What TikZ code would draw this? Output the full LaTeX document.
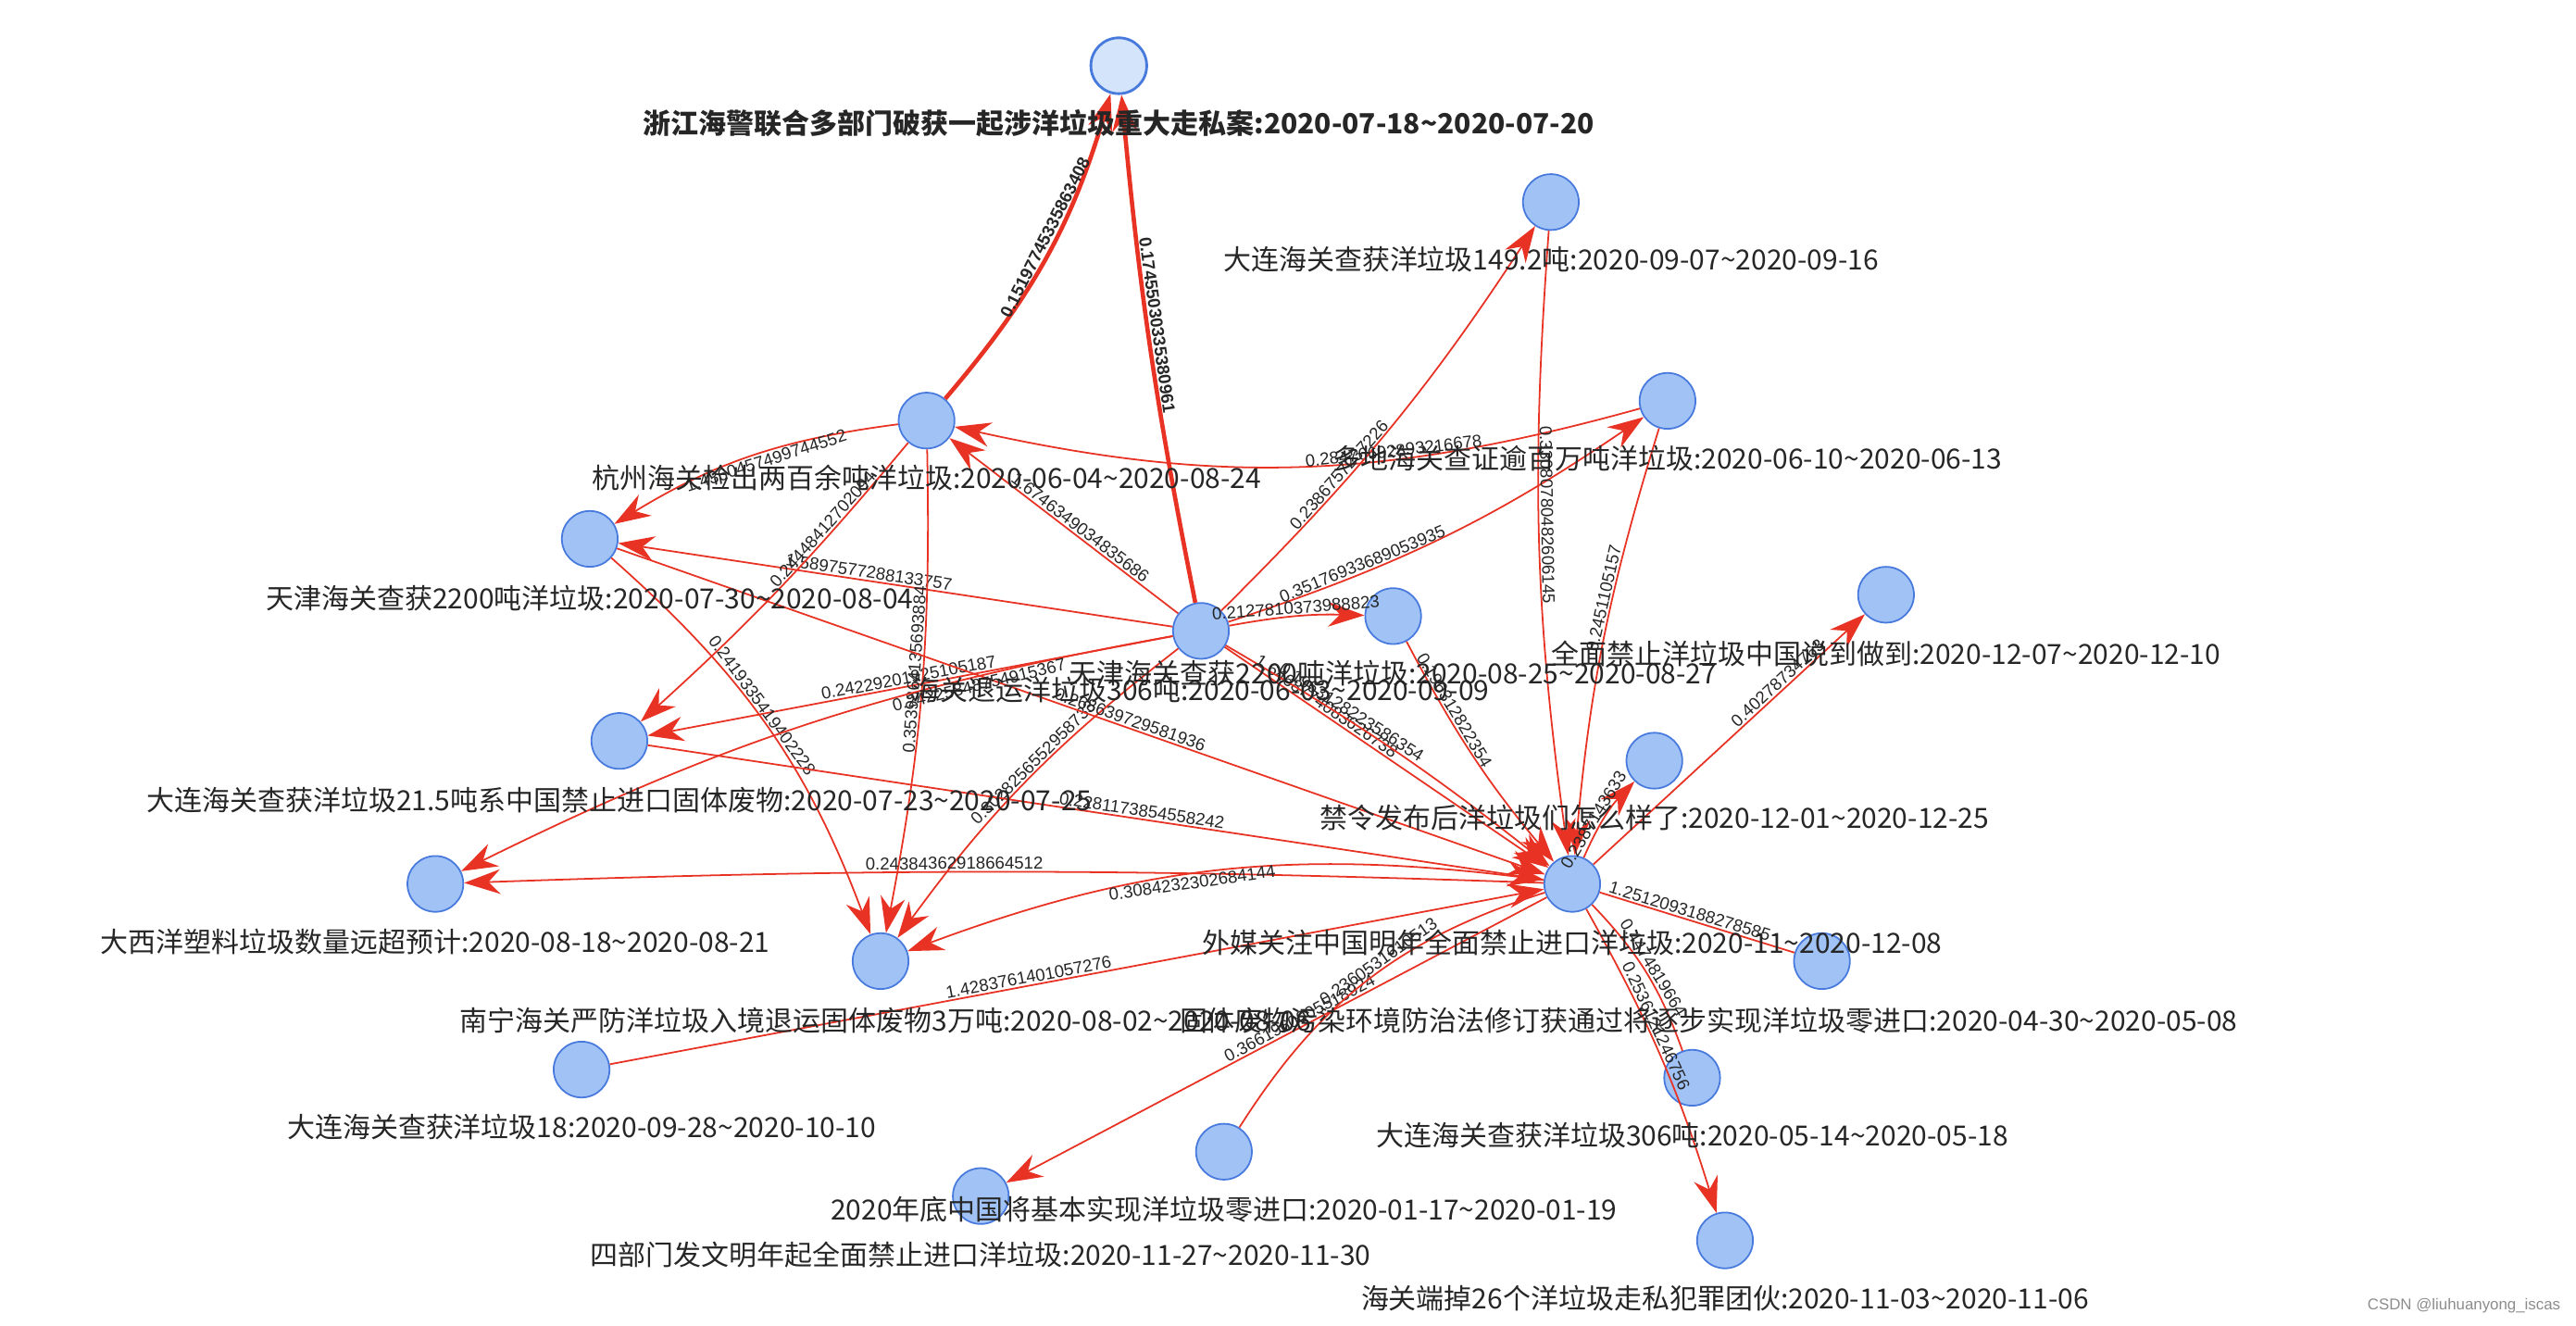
\documentclass[tikz,border=0pt]{standalone}
\usepackage{fontspec}
\setmainfont{Liberation Sans}
\newfontfamily\cjk{Noto Sans CJK SC}
\usetikzlibrary{arrows.meta}
\definecolor{ered}{RGB}{232,50,36}
\definecolor{nfill}{RGB}{160,194,245}
\definecolor{nline}{RGB}{72,122,222}
\tikzset{
 nd/.style={circle,fill=nfill,draw=nline,line width=1pt,minimum size=34pt,inner sep=0pt},
 lab/.style={font=\cjk\fontsize{16.9}{17}\selectfont,text=black!85,inner sep=0pt},
 ed/.style={draw=ered,line width=1pt,-{Stealth[length=22pt,width=15pt]}},
 thk/.style={draw=ered,line width=2.6pt,-{Stealth[length=22pt,width=15pt]}},
 el/.style={font=\fontsize{10.5}{11}\selectfont,sloped,inner sep=1pt,text=black!85},
 elb/.style={font=\bfseries\fontsize{10.5}{11}\selectfont,sloped,inner sep=1pt,text=black!85}
}
\begin{document}
\begin{tikzpicture}[x=1pt,y=-1pt]
\useasboundingbox (0,0) rectangle (1568,807);
\node[nd,fill=nfill!45,line width=1.6pt] (A) at (681,40) {};
\node[nd] (B) at (944,123) {};
\node[nd] (C) at (1015,244) {};
\node[nd] (D) at (564,256) {};
\node[nd] (E) at (359,328) {};
\node[nd] (F) at (1148,362) {};
\node[nd] (G) at (848,375) {};
\node[nd] (H) at (731,384) {};
\node[nd] (I) at (377,451) {};
\node[nd] (J) at (1007,463) {};
\node[nd] (K) at (265,538) {};
\node[nd] (L) at (957,538) {};
\node[nd] (M) at (536,585) {};
\node[nd] (N) at (1109,585) {};
\node[nd] (P) at (354,651) {};
\node[nd] (O) at (1030,656) {};
\node[nd] (Q) at (745,701) {};
\node[nd] (R) at (597,728) {};
\node[nd] (S) at (1050,755) {};
% edges
\draw[thk] (D) to[bend right=12] node[elb,above,pos=0.55]{0.15197745335863408} (A);
\draw[thk] (H) to[bend left=3] node[elb,above,pos=0.55]{0.17455030335380961} (A);
\draw[ed] (H) -- node[el,above,pos=0.45]{1.6746349034835686} (D);
\draw[ed] (C) to[bend left=14] node[el,above,pos=0.35]{0.28476692893216678} (D);
\draw[ed] (D) to[bend right=12] node[el,below,pos=0.45]{1.4360457499744552} (E);
\draw[ed] (H) -- node[el,above,pos=0.55]{1.5897577288133757} (E);
\draw[ed] (D) to[bend left=4] node[el,above,pos=0.3]{0.24448412702094} (I);
\draw[ed] (H) -- node[el,above,pos=0.5]{0.24229201925105187} (I);
\draw[ed] (E) to[bend left=14] node[el,above,pos=0.45]{0.2419335419402228} (M);
\draw[ed] (D) to[bend left=6] node[el,above,pos=0.45]{0.3539864135693884} (M);
\draw[ed] (H) to[bend right=8] node[el,above,pos=0.45]{0.3028256552958733} (M);
\draw[ed] (E) -- node[el,above,pos=0.55]{0.268639729581936} (L);
\draw[ed] (I) -- node[el,above,pos=0.55]{0.2281173854558242} (L);
\draw[ed] (L) to[bend right=2] node[el,above,pos=0.55]{0.24384362918664512} (K);
\draw[ed] (L) to[bend right=14] node[el,below,pos=0.55]{0.3084232302684144} (M);
\draw[ed] (P) -- node[el,above,pos=0.45]{1.4283761401057276} (L);
\draw[ed] (H) to[bend right=8] node[el,below,pos=0.25]{0.24225848754915367} (K);
\draw[ed] (H) to[bend right=6] node[el,above,pos=0.35]{0.2386757237226} (B);
\draw[ed] (H) to[bend right=8] node[el,above,pos=0.3]{0.35176933689053935} (C);
\draw[ed] (H) to[bend left=6] node[el,above,pos=0.5]{0.2127810373988823} (G);
\draw[ed] (H) -- node[el,above,pos=0.3]{1.6468774083626738} (L);
\draw[ed] (H) to[bend left=4] node[el,above,pos=0.35]{0.1963128223586354} (L);
\draw[ed] (G) to[bend right=6] node[el,above,pos=0.3]{0.196312822354} (L);
\draw[ed] (B) to[bend right=6] node[el,above,pos=0.45]{0.33080780482606145} (L);
\draw[ed] (C) to[bend right=6] node[el,above,pos=0.4]{0.2451105157} (L);
\draw[ed] (L) to[bend left=10] node[el,above,pos=0.4]{0.2387143633} (J);
\draw[ed] (L) -- node[el,above,pos=0.7]{0.40278734763} (F);
\draw[draw=ered,line width=1pt] (L) -- node[el,above,pos=0.45]{1.2512093188278585} (N);
\draw[ed] (L) -- node[el,above,pos=0.45]{0.3661960005518924} (R);
\draw[draw=ered,line width=1pt] (Q) to[bend left=20] node[el,above,pos=0.55]{0.2360531610513} (L);
\draw[ed] (L) to[bend left=6] node[el,above,pos=0.4]{0.2536121246756} (S);
\draw[draw=ered,line width=1pt] (O) to[bend right=12] node[el,above,pos=0.5]{0.4474819664} (L);
% labels
\node[lab,font=\cjk\bfseries\fontsize{16.9}{17}\selectfont] at (681,75) {浙江海警联合多部门破获一起涉洋垃圾重大走私案:2020-07-18\textasciitilde2020-07-20};
\node[lab] at (944,158) {大连海关查获洋垃圾149.2吨:2020-09-07\textasciitilde2020-09-16};
\node[lab] at (1015,279) {多地海关查证逾百万吨洋垃圾:2020-06-10\textasciitilde2020-06-13};
\node[lab] at (564,291) {杭州海关检出两百余吨洋垃圾:2020-06-04\textasciitilde2020-08-24};
\node[lab] at (359,364) {天津海关查获2200吨洋垃圾:2020-07-30\textasciitilde2020-08-04};
\node[lab] at (1148,398) {全面禁止洋垃圾中国说到做到:2020-12-07\textasciitilde2020-12-10};
\node[lab] at (848,410) {天津海关查获2200吨洋垃圾:2020-08-25\textasciitilde2020-08-27};
\node[lab] at (731,420) {海关退运洋垃圾306吨:2020-06-03\textasciitilde2020-09-09};
\node[lab] at (377,487) {大连海关查获洋垃圾21.5吨系中国禁止进口固体废物:2020-07-23\textasciitilde2020-07-25};
\node[lab] at (1007,498) {禁令发布后洋垃圾们怎么样了:2020-12-01\textasciitilde2020-12-25};
\node[lab] at (265,573) {大西洋塑料垃圾数量远超预计:2020-08-18\textasciitilde2020-08-21};
\node[lab] at (957,574) {外媒关注中国明年全面禁止进口洋垃圾:2020-11\textasciitilde2020-12-08};
\node[lab] at (539,621) {南宁海关严防洋垃圾入境退运固体废物3万吨:2020-08-02\textasciitilde2020-08-06};
\node[lab] at (1040,621) {固体废物污染环境防治法修订获通过将逐步实现洋垃圾零进口:2020-04-30\textasciitilde2020-05-08};
\node[lab] at (354,686) {大连海关查获洋垃圾18:2020-09-28\textasciitilde2020-10-10};
\node[lab] at (1030,691) {大连海关查获洋垃圾306吨:2020-05-14\textasciitilde2020-05-18};
\node[lab] at (745,736) {2020年底中国将基本实现洋垃圾零进口:2020-01-17\textasciitilde2020-01-19};
\node[lab] at (597,764) {四部门发文明年起全面禁止进口洋垃圾:2020-11-27\textasciitilde2020-11-30};
\node[lab] at (1050,790) {海关端掉26个洋垃圾走私犯罪团伙:2020-11-03\textasciitilde2020-11-06};
\node[font=\fontsize{9.5}{10}\selectfont,text=black!45,anchor=east] (wm) at (1562,795) {CSDN @liuhuanyong\_iscas};
\end{tikzpicture}
\end{document}
